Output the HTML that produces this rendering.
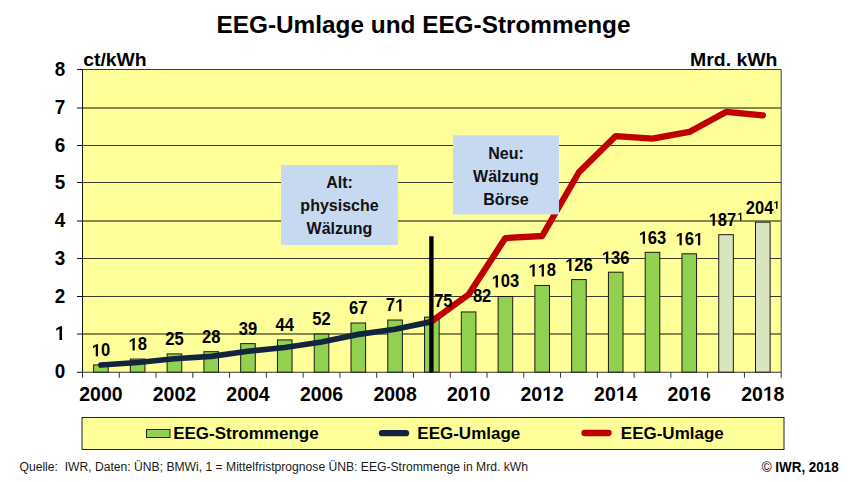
<!DOCTYPE html>
<html><head><meta charset="utf-8"><style>
html,body{margin:0;padding:0;background:#fff;width:850px;height:482px;overflow:hidden}
svg{display:block;font-family:"Liberation Sans", sans-serif}
</style></head><body>
<svg width="850" height="482" viewBox="0 0 850 482">
<rect x="82.5" y="69.5" width="698.70" height="302.80" fill="#FFFF99"/>
<line x1="82.5" y1="334.00" x2="781.2" y2="334.00" stroke="#101008" stroke-width="1"/>
<line x1="82.5" y1="296.50" x2="781.2" y2="296.50" stroke="#3a3a2c" stroke-width="1"/>
<line x1="82.5" y1="258.50" x2="781.2" y2="258.50" stroke="#3a3a2c" stroke-width="1"/>
<line x1="82.5" y1="221.00" x2="781.2" y2="221.00" stroke="#101008" stroke-width="1"/>
<line x1="82.5" y1="182.50" x2="781.2" y2="182.50" stroke="#3a3a2c" stroke-width="1"/>
<line x1="82.5" y1="145.50" x2="781.2" y2="145.50" stroke="#3a3a2c" stroke-width="1"/>
<line x1="82.5" y1="108.00" x2="781.2" y2="108.00" stroke="#101008" stroke-width="1"/>
<rect x="93.59" y="364.94" width="14.6" height="7.36" fill="#92D050" stroke="#1a1a1a" stroke-width="1"/>
<rect x="130.36" y="359.05" width="14.6" height="13.25" fill="#92D050" stroke="#1a1a1a" stroke-width="1"/>
<rect x="167.13" y="353.90" width="14.6" height="18.40" fill="#92D050" stroke="#1a1a1a" stroke-width="1"/>
<rect x="203.91" y="351.69" width="14.6" height="20.61" fill="#92D050" stroke="#1a1a1a" stroke-width="1"/>
<rect x="240.68" y="343.60" width="14.6" height="28.70" fill="#92D050" stroke="#1a1a1a" stroke-width="1"/>
<rect x="277.46" y="339.92" width="14.6" height="32.38" fill="#92D050" stroke="#1a1a1a" stroke-width="1"/>
<rect x="314.23" y="334.03" width="14.6" height="38.27" fill="#92D050" stroke="#1a1a1a" stroke-width="1"/>
<rect x="351.00" y="322.99" width="14.6" height="49.31" fill="#92D050" stroke="#1a1a1a" stroke-width="1"/>
<rect x="387.78" y="320.04" width="14.6" height="52.26" fill="#92D050" stroke="#1a1a1a" stroke-width="1"/>
<rect x="424.55" y="317.10" width="14.6" height="55.20" fill="#92D050" stroke="#1a1a1a" stroke-width="1"/>
<rect x="461.32" y="311.95" width="14.6" height="60.35" fill="#92D050" stroke="#1a1a1a" stroke-width="1"/>
<rect x="498.10" y="296.49" width="14.6" height="75.81" fill="#92D050" stroke="#1a1a1a" stroke-width="1"/>
<rect x="534.87" y="285.45" width="14.6" height="86.85" fill="#92D050" stroke="#1a1a1a" stroke-width="1"/>
<rect x="571.64" y="279.56" width="14.6" height="92.74" fill="#92D050" stroke="#1a1a1a" stroke-width="1"/>
<rect x="608.42" y="272.20" width="14.6" height="100.10" fill="#92D050" stroke="#1a1a1a" stroke-width="1"/>
<rect x="645.19" y="252.33" width="14.6" height="119.97" fill="#92D050" stroke="#1a1a1a" stroke-width="1"/>
<rect x="681.97" y="253.80" width="14.6" height="118.50" fill="#92D050" stroke="#1a1a1a" stroke-width="1"/>
<rect x="718.74" y="234.67" width="14.6" height="137.63" fill="#D7E4BD" stroke="#1a1a1a" stroke-width="1"/>
<rect x="755.51" y="222.16" width="14.6" height="150.14" fill="#D7E4BD" stroke="#1a1a1a" stroke-width="1"/>
<line x1="82.5" y1="69.5" x2="82.5" y2="372.3" stroke="#1a1a12" stroke-width="1"/>
<line x1="82.5" y1="69.5" x2="781.2" y2="69.5" stroke="#3a3a3a" stroke-width="1"/>
<line x1="781.2" y1="69.5" x2="781.2" y2="372.3" stroke="#555" stroke-width="1.1"/>
<line x1="82.0" y1="372.3" x2="781.2" y2="372.3" stroke="#333" stroke-width="1.1"/>
<line x1="77" y1="372.30" x2="82.5" y2="372.30" stroke="#111" stroke-width="1"/>
<line x1="77" y1="334.00" x2="82.5" y2="334.00" stroke="#111" stroke-width="1"/>
<line x1="77" y1="296.50" x2="82.5" y2="296.50" stroke="#111" stroke-width="1"/>
<line x1="77" y1="258.50" x2="82.5" y2="258.50" stroke="#111" stroke-width="1"/>
<line x1="77" y1="221.00" x2="82.5" y2="221.00" stroke="#111" stroke-width="1"/>
<line x1="77" y1="182.50" x2="82.5" y2="182.50" stroke="#111" stroke-width="1"/>
<line x1="77" y1="145.50" x2="82.5" y2="145.50" stroke="#111" stroke-width="1"/>
<line x1="77" y1="108.00" x2="82.5" y2="108.00" stroke="#111" stroke-width="1"/>
<line x1="77" y1="69.50" x2="82.5" y2="69.50" stroke="#111" stroke-width="1"/>
<line x1="82.50" y1="372.3" x2="82.50" y2="377.8" stroke="#333" stroke-width="1"/>
<line x1="119.27" y1="372.3" x2="119.27" y2="377.8" stroke="#333" stroke-width="1"/>
<line x1="156.05" y1="372.3" x2="156.05" y2="377.8" stroke="#333" stroke-width="1"/>
<line x1="192.82" y1="372.3" x2="192.82" y2="377.8" stroke="#333" stroke-width="1"/>
<line x1="229.59" y1="372.3" x2="229.59" y2="377.8" stroke="#333" stroke-width="1"/>
<line x1="266.37" y1="372.3" x2="266.37" y2="377.8" stroke="#333" stroke-width="1"/>
<line x1="303.14" y1="372.3" x2="303.14" y2="377.8" stroke="#333" stroke-width="1"/>
<line x1="339.92" y1="372.3" x2="339.92" y2="377.8" stroke="#333" stroke-width="1"/>
<line x1="376.69" y1="372.3" x2="376.69" y2="377.8" stroke="#333" stroke-width="1"/>
<line x1="413.46" y1="372.3" x2="413.46" y2="377.8" stroke="#333" stroke-width="1"/>
<line x1="450.24" y1="372.3" x2="450.24" y2="377.8" stroke="#333" stroke-width="1"/>
<line x1="487.01" y1="372.3" x2="487.01" y2="377.8" stroke="#333" stroke-width="1"/>
<line x1="523.78" y1="372.3" x2="523.78" y2="377.8" stroke="#333" stroke-width="1"/>
<line x1="560.56" y1="372.3" x2="560.56" y2="377.8" stroke="#333" stroke-width="1"/>
<line x1="597.33" y1="372.3" x2="597.33" y2="377.8" stroke="#333" stroke-width="1"/>
<line x1="634.11" y1="372.3" x2="634.11" y2="377.8" stroke="#333" stroke-width="1"/>
<line x1="670.88" y1="372.3" x2="670.88" y2="377.8" stroke="#333" stroke-width="1"/>
<line x1="707.65" y1="372.3" x2="707.65" y2="377.8" stroke="#333" stroke-width="1"/>
<line x1="744.43" y1="372.3" x2="744.43" y2="377.8" stroke="#333" stroke-width="1"/>
<line x1="781.20" y1="372.3" x2="781.20" y2="377.8" stroke="#333" stroke-width="1"/>
<polyline points="100.89,365.03 137.66,362.51 174.43,358.73 211.21,356.36 247.98,351.23 284.76,347.49 321.53,342.02 358.30,334.37 395.08,329.20 431.85,321.66" fill="none" stroke="#13243E" stroke-width="5.7" stroke-linecap="round" stroke-linejoin="round"/>
<polyline points="431.85,321.26 468.62,294.47 505.40,238.08 542.17,236.01 578.94,172.26 615.72,136.05 652.49,138.69 689.27,131.90 726.04,111.91 762.81,115.30" fill="none" stroke="#C00000" stroke-width="6.3" stroke-linecap="round" stroke-linejoin="round"/>
<rect x="429.2" y="236.3" width="4.4" height="136.00" fill="#000"/>
<rect x="281" y="165" width="117" height="80" fill="#C6D9F1"/>
<rect x="453" y="135.4" width="106" height="79" fill="#C6D9F1"/>
<rect x="82" y="417.5" width="702" height="32" fill="#FFFF99" stroke="#222" stroke-width="1"/>
<rect x="146.5" y="429.5" width="23.5" height="8" fill="#92D050" stroke="#222" stroke-width="1"/>
<line x1="382" y1="433.2" x2="406" y2="433.2" stroke="#13243E" stroke-width="6.3" stroke-linecap="round"/>
<line x1="584.5" y1="433" x2="608.5" y2="433" stroke="#C00000" stroke-width="6.3" stroke-linecap="round"/>
<text x="339.50" y="188.20" font-size="16" text-anchor="middle" font-weight="bold" fill="#111" >Alt:</text>
<text x="339.50" y="211.00" font-size="16" text-anchor="middle" font-weight="bold" fill="#111" >physische</text>
<text x="339.50" y="233.60" font-size="16" text-anchor="middle" font-weight="bold" fill="#111" >Wälzung</text>
<text x="506.00" y="158.80" font-size="16" text-anchor="middle" font-weight="bold" fill="#111" >Neu:</text>
<text x="506.00" y="182.00" font-size="16" text-anchor="middle" font-weight="bold" fill="#111" >Wälzung</text>
<text x="506.00" y="205.00" font-size="16" text-anchor="middle" font-weight="bold" fill="#111" >Börse</text>
<text x="100.89" y="356.34" font-size="17.6" text-anchor="middle" font-weight="bold" fill="#000" textLength="18.43" lengthAdjust="spacingAndGlyphs">&#8199;0</text>
<path d="M505 0H785V1418H570L160 1170V950L505 1145Z" fill="#000" transform="translate(91.67 356.34) scale(0.00809 -0.00859)"/>
<text x="137.66" y="350.45" font-size="17.6" text-anchor="middle" font-weight="bold" fill="#000" textLength="18.43" lengthAdjust="spacingAndGlyphs">&#8199;8</text>
<path d="M505 0H785V1418H570L160 1170V950L505 1145Z" fill="#000" transform="translate(128.44 350.45) scale(0.00809 -0.00859)"/>
<text x="174.43" y="345.30" font-size="17.6" text-anchor="middle" font-weight="bold" fill="#000" textLength="18.43" lengthAdjust="spacingAndGlyphs">25</text>
<text x="211.21" y="343.09" font-size="17.6" text-anchor="middle" font-weight="bold" fill="#000" textLength="18.43" lengthAdjust="spacingAndGlyphs">28</text>
<text x="247.98" y="335.00" font-size="17.6" text-anchor="middle" font-weight="bold" fill="#000" textLength="18.43" lengthAdjust="spacingAndGlyphs">39</text>
<text x="284.76" y="331.32" font-size="17.6" text-anchor="middle" font-weight="bold" fill="#000" textLength="18.43" lengthAdjust="spacingAndGlyphs">44</text>
<text x="321.53" y="325.43" font-size="17.6" text-anchor="middle" font-weight="bold" fill="#000" textLength="18.43" lengthAdjust="spacingAndGlyphs">52</text>
<text x="358.30" y="314.39" font-size="17.6" text-anchor="middle" font-weight="bold" fill="#000" textLength="18.43" lengthAdjust="spacingAndGlyphs">67</text>
<text x="395.08" y="311.44" font-size="17.6" text-anchor="middle" font-weight="bold" fill="#000" textLength="18.43" lengthAdjust="spacingAndGlyphs">7&#8199;</text>
<path d="M505 0H785V1418H570L160 1170V950L505 1145Z" fill="#000" transform="translate(395.08 311.44) scale(0.00809 -0.00859)"/>
<text x="443.35" y="306.90" font-size="17.6" text-anchor="middle" font-weight="bold" fill="#000" textLength="18.43" lengthAdjust="spacingAndGlyphs">75</text>
<text x="482.12" y="301.95" font-size="17.6" text-anchor="middle" font-weight="bold" fill="#000" textLength="18.43" lengthAdjust="spacingAndGlyphs">82</text>
<text x="505.40" y="287.49" font-size="17.6" text-anchor="middle" font-weight="bold" fill="#000" textLength="27.65" lengthAdjust="spacingAndGlyphs">&#8199;03</text>
<path d="M505 0H785V1418H570L160 1170V950L505 1145Z" fill="#000" transform="translate(491.57 287.49) scale(0.00809 -0.00859)"/>
<text x="542.17" y="276.45" font-size="17.6" text-anchor="middle" font-weight="bold" fill="#000" textLength="27.65" lengthAdjust="spacingAndGlyphs">&#8199;&#8199;8</text>
<path d="M505 0H785V1418H570L160 1170V950L505 1145Z" fill="#000" transform="translate(528.35 276.45) scale(0.00809 -0.00859)"/>
<path d="M505 0H785V1418H570L160 1170V950L505 1145Z" fill="#000" transform="translate(537.56 276.45) scale(0.00809 -0.00859)"/>
<text x="578.94" y="270.96" font-size="17.6" text-anchor="middle" font-weight="bold" fill="#000" textLength="27.65" lengthAdjust="spacingAndGlyphs">&#8199;26</text>
<path d="M505 0H785V1418H570L160 1170V950L505 1145Z" fill="#000" transform="translate(565.12 270.96) scale(0.00809 -0.00859)"/>
<text x="615.72" y="263.60" font-size="17.6" text-anchor="middle" font-weight="bold" fill="#000" textLength="27.65" lengthAdjust="spacingAndGlyphs">&#8199;36</text>
<path d="M505 0H785V1418H570L160 1170V950L505 1145Z" fill="#000" transform="translate(601.89 263.60) scale(0.00809 -0.00859)"/>
<text x="652.49" y="243.73" font-size="17.6" text-anchor="middle" font-weight="bold" fill="#000" textLength="27.65" lengthAdjust="spacingAndGlyphs">&#8199;63</text>
<path d="M505 0H785V1418H570L160 1170V950L505 1145Z" fill="#000" transform="translate(638.67 243.73) scale(0.00809 -0.00859)"/>
<text x="689.27" y="245.20" font-size="17.6" text-anchor="middle" font-weight="bold" fill="#000" textLength="27.65" lengthAdjust="spacingAndGlyphs">&#8199;6&#8199;</text>
<path d="M505 0H785V1418H570L160 1170V950L505 1145Z" fill="#000" transform="translate(675.44 245.20) scale(0.00809 -0.00859)"/>
<path d="M505 0H785V1418H570L160 1170V950L505 1145Z" fill="#000" transform="translate(693.87 245.20) scale(0.00809 -0.00859)"/>
<text x="722.30" y="225.70" font-size="17.6" text-anchor="middle" font-weight="bold" fill="#000" textLength="27.50" lengthAdjust="spacingAndGlyphs">&#8199;87</text>
<path d="M505 0H785V1418H570L160 1170V950L505 1145Z" fill="#000" transform="translate(708.55 225.70) scale(0.00805 -0.00859)"/>
<path d="M505 0H785V1418H570L160 1170V950L505 1145Z" fill="#000" transform="translate(737.35 220.40) scale(0.00518 -0.00537)"/>
<text x="759.60" y="214.10" font-size="17.6" text-anchor="middle" font-weight="bold" fill="#000" textLength="27.50" lengthAdjust="spacingAndGlyphs">204</text>
<path d="M505 0H785V1418H570L160 1170V950L505 1145Z" fill="#000" transform="translate(773.45 208.80) scale(0.00518 -0.00537)"/>
<text x="65.30" y="378.30" font-size="20" text-anchor="end" font-weight="bold" fill="#000" textLength="10.50" lengthAdjust="spacingAndGlyphs">0</text>
<path d="M505 0H785V1418H570L160 1170V950L505 1145Z" fill="#000" transform="translate(54.80 340.00) scale(0.00922 -0.00977)"/>
<text x="65.30" y="302.50" font-size="20" text-anchor="end" font-weight="bold" fill="#000" textLength="10.50" lengthAdjust="spacingAndGlyphs">2</text>
<text x="65.30" y="264.50" font-size="20" text-anchor="end" font-weight="bold" fill="#000" textLength="10.50" lengthAdjust="spacingAndGlyphs">3</text>
<text x="65.30" y="227.00" font-size="20" text-anchor="end" font-weight="bold" fill="#000" textLength="10.50" lengthAdjust="spacingAndGlyphs">4</text>
<text x="65.30" y="188.50" font-size="20" text-anchor="end" font-weight="bold" fill="#000" textLength="10.50" lengthAdjust="spacingAndGlyphs">5</text>
<text x="65.30" y="151.50" font-size="20" text-anchor="end" font-weight="bold" fill="#000" textLength="10.50" lengthAdjust="spacingAndGlyphs">6</text>
<text x="65.30" y="114.00" font-size="20" text-anchor="end" font-weight="bold" fill="#000" textLength="10.50" lengthAdjust="spacingAndGlyphs">7</text>
<text x="65.30" y="75.50" font-size="20" text-anchor="end" font-weight="bold" fill="#000" textLength="10.50" lengthAdjust="spacingAndGlyphs">8</text>
<text x="100.89" y="400.70" font-size="20.2" text-anchor="middle" font-weight="bold" fill="#000" textLength="43.30" lengthAdjust="spacingAndGlyphs">2000</text>
<text x="174.43" y="400.70" font-size="20.2" text-anchor="middle" font-weight="bold" fill="#000" textLength="43.30" lengthAdjust="spacingAndGlyphs">2002</text>
<text x="247.98" y="400.70" font-size="20.2" text-anchor="middle" font-weight="bold" fill="#000" textLength="43.30" lengthAdjust="spacingAndGlyphs">2004</text>
<text x="321.53" y="400.70" font-size="20.2" text-anchor="middle" font-weight="bold" fill="#000" textLength="43.30" lengthAdjust="spacingAndGlyphs">2006</text>
<text x="395.08" y="400.70" font-size="20.2" text-anchor="middle" font-weight="bold" fill="#000" textLength="43.30" lengthAdjust="spacingAndGlyphs">2008</text>
<text x="468.62" y="400.70" font-size="20.2" text-anchor="middle" font-weight="bold" fill="#000" textLength="43.30" lengthAdjust="spacingAndGlyphs">20&#8199;0</text>
<path d="M505 0H785V1418H570L160 1170V950L505 1145Z" fill="#000" transform="translate(468.62 400.70) scale(0.00950 -0.00986)"/>
<text x="542.17" y="400.70" font-size="20.2" text-anchor="middle" font-weight="bold" fill="#000" textLength="43.30" lengthAdjust="spacingAndGlyphs">20&#8199;2</text>
<path d="M505 0H785V1418H570L160 1170V950L505 1145Z" fill="#000" transform="translate(542.17 400.70) scale(0.00950 -0.00986)"/>
<text x="615.72" y="400.70" font-size="20.2" text-anchor="middle" font-weight="bold" fill="#000" textLength="43.30" lengthAdjust="spacingAndGlyphs">20&#8199;4</text>
<path d="M505 0H785V1418H570L160 1170V950L505 1145Z" fill="#000" transform="translate(615.72 400.70) scale(0.00950 -0.00986)"/>
<text x="689.27" y="400.70" font-size="20.2" text-anchor="middle" font-weight="bold" fill="#000" textLength="43.30" lengthAdjust="spacingAndGlyphs">20&#8199;6</text>
<path d="M505 0H785V1418H570L160 1170V950L505 1145Z" fill="#000" transform="translate(689.27 400.70) scale(0.00950 -0.00986)"/>
<text x="762.81" y="400.70" font-size="20.2" text-anchor="middle" font-weight="bold" fill="#000" textLength="43.30" lengthAdjust="spacingAndGlyphs">20&#8199;8</text>
<path d="M505 0H785V1418H570L160 1170V950L505 1145Z" fill="#000" transform="translate(762.81 400.70) scale(0.00950 -0.00986)"/>
<text x="83.20" y="66.20" font-size="18.2" text-anchor="start" font-weight="bold" fill="#000" textLength="63.5" lengthAdjust="spacingAndGlyphs">ct/kWh</text>
<text x="777.50" y="66.20" font-size="18.5" text-anchor="end" font-weight="bold" fill="#000" textLength="87.5" lengthAdjust="spacingAndGlyphs">Mrd. kWh</text>
<text x="423.50" y="33.40" font-size="24.4" text-anchor="middle" font-weight="bold" fill="#000" textLength="414" lengthAdjust="spacingAndGlyphs">EEG-Umlage und EEG-Strommenge</text>
<text x="173.20" y="438.90" font-size="17" text-anchor="start" font-weight="bold" fill="#000" >EEG-Strommenge</text>
<text x="417.30" y="438.90" font-size="17" text-anchor="start" font-weight="bold" fill="#000" >EEG-Umlage</text>
<text x="620.80" y="438.90" font-size="17" text-anchor="start" font-weight="bold" fill="#000" >EEG-Umlage</text>
<text x="19.50" y="470.50" font-size="12" text-anchor="start" font-weight="normal" fill="#1a1a1a" textLength="508.5" lengthAdjust="spacingAndGlyphs">Quelle:&#160; IWR, Daten: ÜNB; BMWi, 1 = Mittelfristprognose ÜNB: EEG-Strommenge in Mrd. kWh</text>
<text x="838.70" y="471.60" font-size="13.8" text-anchor="end" font-weight="bold" fill="#000" textLength="77" lengthAdjust="spacingAndGlyphs"><tspan font-weight="normal">©</tspan> IWR, 2018</text>
</svg>
</body></html>
